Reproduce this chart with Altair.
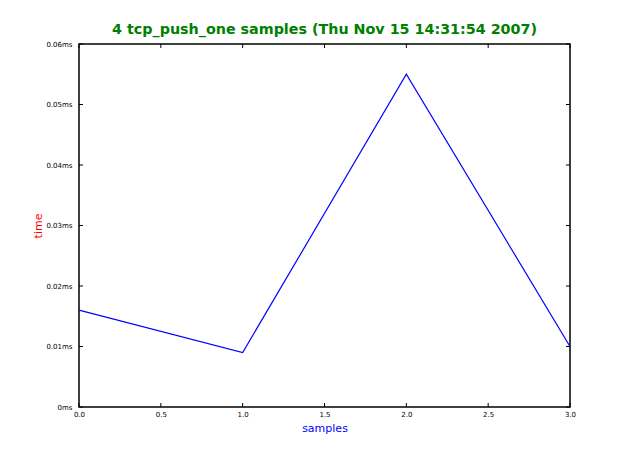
import altair as alt
import pandas as pd

samples = [0, 1, 2, 3]
times = [0.016, 0.009, 0.055, 0.010]
x_ticks = [0.0, 0.5, 1.0, 1.5, 2.0, 2.5, 3.0]
y_ticks = [0.0, 0.01, 0.02, 0.03, 0.04, 0.05, 0.06]
title_text = "4 tcp_push_one samples (Thu Nov 15 14:31:54 2007)"

W, H = 491, 363
TL = 4

df = pd.DataFrame({"x": samples, "y": times})
dx = pd.DataFrame({"x": x_ticks})
dy = pd.DataFrame({"y": y_ticks})

xs = alt.Scale(domain=[0, 3], nice=False, zero=False)
ys = alt.Scale(domain=[0, 0.06], nice=False, zero=False)

xax = alt.Axis(values=x_ticks, format=".1f", labelFontSize=7, labelColor="black",
               labelPadding=3, tickSize=0, domain=False, grid=False, labelFlush=False,
               titleColor="blue", titleFontSize=11, titleFontWeight="normal",
               titlePadding=5, labelFont="DejaVu Sans", titleFont="DejaVu Sans")
yax = alt.Axis(values=y_ticks, labelExpr="format(datum.value, '~g') + 'ms'",
               labelFontSize=7, labelColor="black", labelPadding=7, tickSize=0,
               domain=False, grid=False, labelFlush=False, titleColor="red", titleFontSize=11,
               titleFontWeight="normal", titlePadding=2,
               labelFont="DejaVu Sans", titleFont="DejaVu Sans")

X = alt.X("x:Q", scale=xs, title="samples", axis=xax)
Y = alt.Y("y:Q", scale=ys, title="time", axis=yax)

line = alt.Chart(df).mark_line(color="#0000ff", strokeWidth=1.2).encode(x=X, y=Y)

bt = alt.Chart(dx).mark_rule(color="black", strokeWidth=1).encode(
    x=X, y=alt.value(H), y2=alt.value(H - TL))
tt = alt.Chart(dx).mark_rule(color="black", strokeWidth=1).encode(
    x=X, y=alt.value(0), y2=alt.value(TL))
lt = alt.Chart(dy).mark_rule(color="black", strokeWidth=1).encode(
    y=Y, x=alt.value(0), x2=alt.value(TL))
rt = alt.Chart(dy).mark_rule(color="black", strokeWidth=1).encode(
    y=Y, x=alt.value(W), x2=alt.value(W - TL))

chart = alt.layer(line, bt, tt, lt, rt).properties(
    width=W, height=H,
    title=alt.TitleParams(title_text, color="green", fontSize=14.3, fontWeight="bold",
                          font="DejaVu Sans", anchor="middle", offset=3),
    autosize=alt.AutoSizeParams(type="none"),
    padding={"left": 71, "top": 36, "right": 55, "bottom": 38},
).configure(background="white", view=alt.ViewConfig(stroke="black", strokeWidth=1.5))

chart.save("out.html", embed_options={"renderer": "svg", "actions": False})
